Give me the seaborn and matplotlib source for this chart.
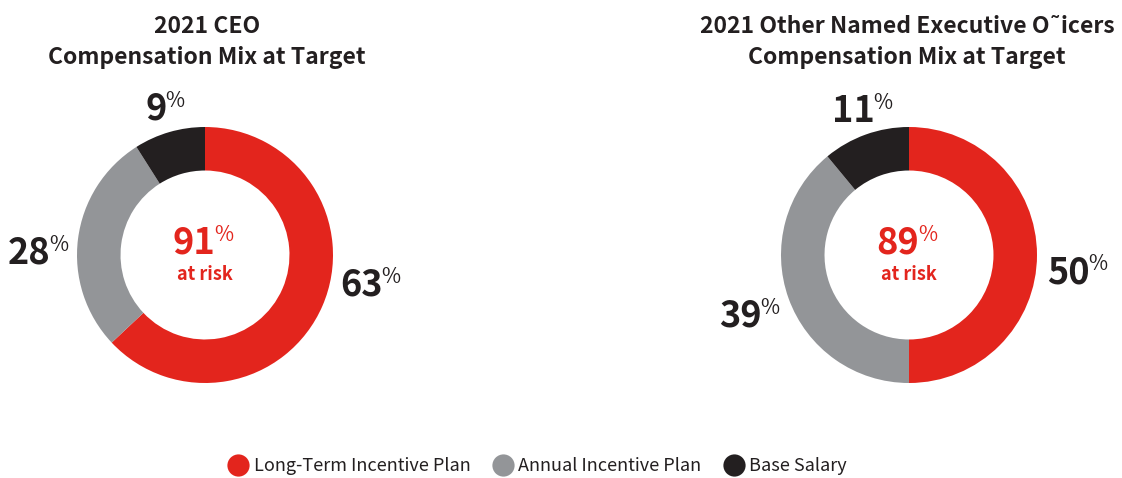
import matplotlib
matplotlib.use("Agg")
import matplotlib.pyplot as plt
from matplotlib.lines import Line2D
import seaborn as sns

# ---- data ----
categories = ["Long-Term Incentive Plan", "Annual Incentive Plan", "Base Salary"]
ceo_values = [63, 28, 9]
neo_values = [50, 39, 11]
ceo_at_risk = 91
neo_at_risk = 89
titles = ["2021 CEO\nCompensation Mix at Target",
          "2021 Other Named Executive O\u02dcicers\nCompensation Mix at Target"]
colors = ["#E3251D", "#939598", "#231F20"]

sns.set_theme(style="white")
FONT = ["Noto Sans CJK SC", "DejaVu Sans"]
plt.rcParams["font.family"] = FONT

W, H = 1122, 478
fig = plt.figure(figsize=(W / 100, H / 100), dpi=100)
fig.patch.set_facecolor("white")

R = 128  # outer radius, px


def pie_axes(cx, cy):
    return fig.add_axes([(cx - R) / W, (H - cy - R) / H, 2 * R / W, 2 * R / H])


def pct_label(ax, x, y, num, color="#231F20", size=26, psize=15, praise=0.10):
    ax.text(x, y, str(num), ha="right", va="baseline", fontsize=size,
            fontweight="bold", color=color, family=FONT, clip_on=False)
    ax.text(x - 0.01, y + praise, "%", ha="left", va="baseline", fontsize=psize,
            color=color, family=FONT, clip_on=False)


def donut(ax, values, at_risk, label_pos):
    ax.pie(values, colors=colors, startangle=90, counterclock=False,
           radius=1.0, wedgeprops=dict(width=0.34, edgecolor="none"))
    ax.set_xlim(-1, 1)
    ax.set_ylim(-1, 1)
    ax.set_aspect("equal")
    ax.axis("off")
    for (x, y), v in zip(label_pos, values):
        pct_label(ax, x, y, v)
    pct_label(ax, 0.08, 0.01, at_risk, color=colors[0])
    ax.text(0.0, -0.195, "at risk", ha="center", va="baseline", fontsize=13,
            fontweight="bold", color=colors[0], family=FONT)


ax1 = pie_axes(205, 255)
donut(ax1, ceo_values, ceo_at_risk, [(1.39, -0.32), (-1.21, -0.07), (-0.30, 1.055)])
ax2 = pie_axes(909, 255)
donut(ax2, neo_values, neo_at_risk, [(1.41, -0.22), (-1.15, -0.56), (-0.27, 1.04)])

# titles
for cx, t in zip([207, 907], titles):
    l1, l2 = t.split("\n")
    fig.text(cx / W, 1 - 33 / H, l1, ha="center", va="baseline",
             fontsize=16.5, fontweight="bold", color="#231F20")
    fig.text(cx / W, 1 - 64 / H, l2, ha="center", va="baseline",
             fontsize=16.5, fontweight="bold", color="#231F20")

# legend
handles = [Line2D([0], [0], marker="o", linestyle="none", markersize=16,
                  markerfacecolor=c, markeredgecolor="none") for c in colors]
fig.legend(handles, categories, loc="center", bbox_to_anchor=(538 / W, 1 - 466 / H),
           ncol=3, frameon=False, fontsize=13, handletextpad=0.35,
           columnspacing=1.3, handlelength=1.0, labelcolor="#231F20")

fig.savefig("out.png", dpi=100, facecolor="white")
